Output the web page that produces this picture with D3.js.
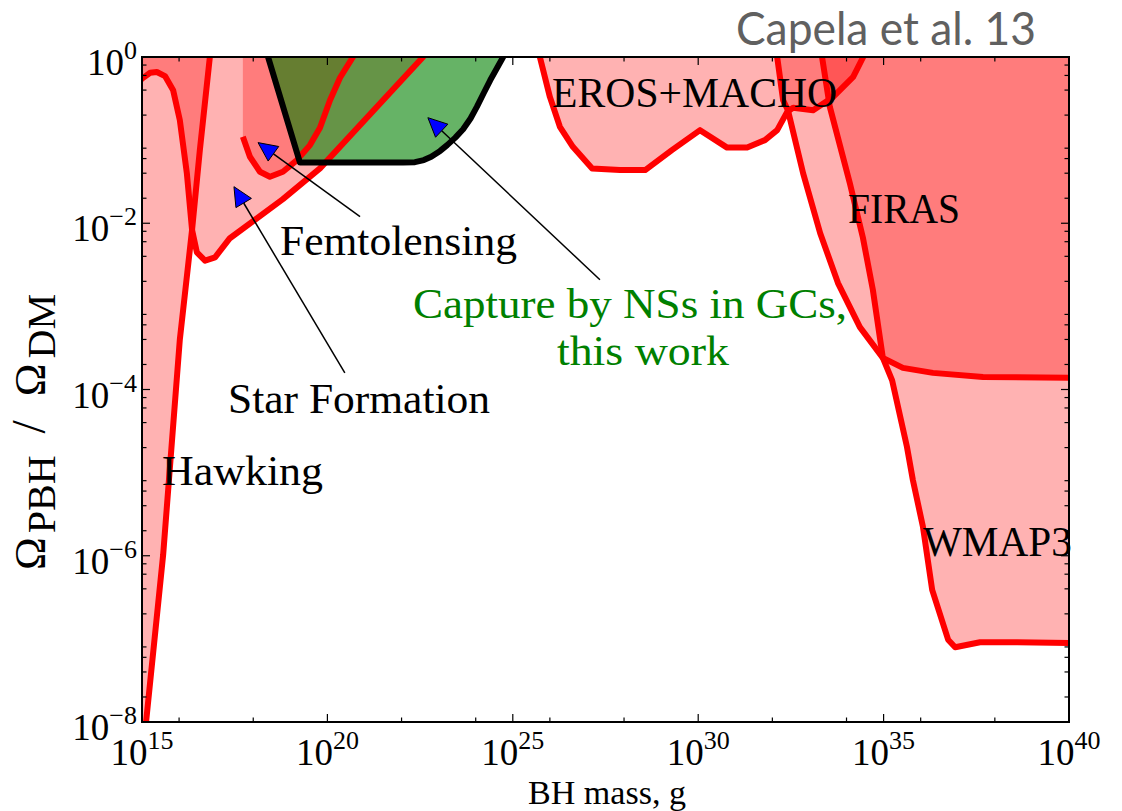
<!DOCTYPE html>
<html>
<head>
<meta charset="utf-8">
<script src="https://cdn.jsdelivr.net/npm/d3@7"></script>
<style>
body { margin: 0; background: #fff; }
svg text { font-family: "Liberation Serif", "DejaVu Serif", serif; }
</style>
</head>
<body>
<svg id="chart" width="1122" height="811"></svg>
<script>

// every point is [log10 M (g), log10 Omega_PBH/Omega_DM]
var hawking = [[15.06,-8.3],[15.11,-8.0],[15.57,-5.99],[16.02,-3.40],[16.35,-2.08],[16.56,-1.12],[16.83,0],[16.85,0.1]];
var starFormation = [[14.9,-0.3],[15.03,-0.25],[15.22,-0.19],[15.40,-0.18],[15.62,-0.23],[15.84,-0.40],[16.02,-0.76],
    [16.21,-1.40],[16.35,-2.08],[16.48,-2.35],[16.70,-2.45],[16.97,-2.41],[17.37,-2.18],[18.80,-1.71],
    [19.80,-1.34],[22.58,0],[22.66,0.1]];
var femtolensing = [[17.72,-0.96],[17.91,-1.20],[18.18,-1.38],[18.45,-1.44],[18.80,-1.38],[19.18,-1.24],
    [19.53,-1.06],[19.80,-0.85],[20.07,-0.52],[20.34,-0.25],[20.69,0],[20.75,0.1]];
var capture = [[18.33,0.1],[18.40,0],[19.26,-1.27],[22.04,-1.27],[22.36,-1.265],[22.60,-1.24],[22.80,-1.20],
    [23.04,-1.13],[23.23,-1.06],[23.45,-0.97],[23.66,-0.87],[23.86,-0.74],[24.03,-0.60],[24.22,-0.43],
    [24.39,-0.28],[24.74,0],[24.80,0.1]];
var erosMacho = [[25.70,0.1],[25.73,0],[26.00,-0.48],[26.27,-0.84],[26.62,-1.08],[27.14,-1.34],[27.89,-1.36],
    [28.57,-1.36],[29.29,-1.12],[30.05,-0.88],[30.78,-1.09],[31.32,-1.09],[31.80,-1.00],[32.13,-0.88],
    [32.40,-0.66],[32.56,-0.61],[33.10,-0.64],[33.64,-0.48],[34.18,-0.24],[34.45,0],[34.50,0.1]];
var wmap3 = [[32.11,0.1],[32.13,0],[32.29,-0.52],[32.42,-0.64],[32.83,-1.40],[33.29,-2.12],[33.77,-2.72],
    [34.36,-3.25],[34.98,-3.62],[35.23,-3.89],[35.63,-4.69],[35.79,-5.09],[36.06,-5.65],[36.31,-6.41],
    [36.74,-7.01],[36.93,-7.10],[37.60,-7.04],[38.60,-7.04],[40.00,-7.05],[40.2,-7.05]];
var firas = [[33.32,0.1],[33.34,0],[33.55,-0.60],[34.09,-1.52],[34.44,-2.17],[34.71,-2.80],[34.98,-3.62],
    [35.52,-3.74],[36.33,-3.80],[37.68,-3.85],[40.00,-3.86],[40.2,-3.86]];

// annotation arrows: [tail, tip]
var arrowFemto = [[20.88,-1.92],[18.13,-1.03]];
var arrowStar = [[20.47,-3.80],[17.48,-1.56]];
var arrowCapture = [[27.35,-2.68],[22.71,-0.73]];

var xMajor = [15,20,25,30,35,40];
var xMinor = [16,18,22,24,26,28,32,34,36,38];
var yMajor = [0,-2,-4,-6,-8];

var labels = [
    {text: 'EROS+MACHO', at: [26.06,-0.60], len: 285, color: '#000'},
    {text: 'FIRAS', at: [34.04,-2.00], len: 112, color: '#000'},
    {text: 'WMAP3', at: [36.06,-6.00], len: 149, color: '#000'},
    {text: 'Hawking', at: [15.54,-5.15], len: 161, color: '#000'},
    {text: 'Star Formation', at: [17.32,-4.28], len: 262, color: '#000'},
    {text: 'Femtolensing', at: [18.72,-2.38], len: 237, color: '#000'},
    {text: 'Capture by NSs in GCs,', at: [22.31,-3.14], len: 434, color: '#008000'},
    {text: 'this work', at: [26.19,-3.70], len: 172, color: '#008000'}
];

var box = {left: 142, right: 1069, top: 57, bottom: 722};
var svg = d3.select('#chart');

var x = d3.scaleLog().domain([1e15, 1e40]).range([box.left, box.right]);
var y = d3.scaleLog().domain([1e-8, 1]).range([box.bottom, box.top]);
var px = function(d) { return x(Math.pow(10, d[0])); };
var py = function(d) { return y(Math.pow(10, d[1])); };
var line = d3.line().x(px).y(py);
var shape = function(pts) { return line(pts) + 'Z'; };

svg.append('clipPath').attr('id', 'plot')
    .append('rect')
    .attr('x', box.left).attr('y', box.top)
    .attr('width', box.right - box.left).attr('height', box.bottom - box.top);

var g = svg.append('g').attr('clip-path', 'url(#plot)');

// excluded regions, red at 30% so the overlaps darken
var regions = [
    hawking.concat([[14.8,0.2],[14.8,-8.3]]),
    starFormation.concat([[14.8,0.2]]),
    [[17.72,0.2]].concat(femtolensing),
    erosMacho,
    wmap3.concat([[40.2,0.2]]),
    firas.concat([[40.2,0.2]])
];
g.selectAll('path.region').data(regions).enter().append('path')
    .attr('class', 'region')
    .attr('d', shape)
    .attr('fill', '#ff0000').attr('fill-opacity', 0.3)
    .attr('stroke', 'none');

g.append('path')
    .attr('d', shape(capture))
    .attr('fill', '#008000').attr('fill-opacity', 0.6);

[hawking, starFormation, femtolensing, erosMacho, wmap3, firas].forEach(function(c) {
    g.append('path').attr('d', line(c))
        .attr('fill', 'none').attr('stroke', '#ff0000')
        .attr('stroke-width', 6).attr('stroke-linejoin', 'round');
});

g.append('path').attr('d', line(capture))
    .attr('fill', 'none').attr('stroke', '#000')
    .attr('stroke-width', 6).attr('stroke-linejoin', 'round');

// arrows
[arrowFemto, arrowStar, arrowCapture].forEach(function(a) {
    var x0 = px(a[0]), y0 = py(a[0]), x1 = px(a[1]), y1 = py(a[1]);
    var dx = x1 - x0, dy = y1 - y0, n = Math.sqrt(dx * dx + dy * dy);
    var ux = dx / n, uy = dy / n, hl = 19, hw = 9;
    var bx = x1 - ux * hl, by = y1 - uy * hl;
    svg.append('line')
        .attr('x1', x0).attr('y1', y0).attr('x2', bx).attr('y2', by)
        .attr('stroke', '#000').attr('stroke-width', 1.5);
    svg.append('path')
        .attr('d', 'M' + x1 + ',' + y1 + 'L' + (bx - uy * hw) + ',' + (by + ux * hw) +
            'L' + (bx + uy * hw) + ',' + (by - ux * hw) + 'Z')
        .attr('fill', '#0000ff').attr('stroke', '#000').attr('stroke-width', 1);
});

// frame and ticks, pointing inward on all sides
var ticks = svg.append('g').attr('stroke', '#000').attr('stroke-width', 1.2);
function xTick(e, len) {
    var xx = x(Math.pow(10, e));
    ticks.append('line').attr('x1', xx).attr('x2', xx).attr('y1', box.bottom).attr('y2', box.bottom - len);
    ticks.append('line').attr('x1', xx).attr('x2', xx).attr('y1', box.top).attr('y2', box.top + len);
}
function yTick(v, len) {
    var yy = y(v);
    ticks.append('line').attr('y1', yy).attr('y2', yy).attr('x1', box.left).attr('x2', box.left + len);
    ticks.append('line').attr('y1', yy).attr('y2', yy).attr('x1', box.right).attr('x2', box.right - len);
}
xMajor.forEach(function(e) { xTick(e, 8); });
xMinor.forEach(function(e) { xTick(e, 4.5); });
yMajor.forEach(function(e) { yTick(Math.pow(10, e), 8); });
d3.range(-8, 0).forEach(function(e) {
    [2, 4, 6, 8].forEach(function(k) { yTick(k * Math.pow(10, e), 4.5); });
});

svg.append('rect')
    .attr('x', box.left).attr('y', box.top)
    .attr('width', box.right - box.left).attr('height', box.bottom - box.top)
    .attr('fill', 'none').attr('stroke', '#000').attr('stroke-width', 2);

function powLabel(t, e) {
    t.append('tspan').text('10');
    t.append('tspan').attr('dy', -16).attr('font-size', 26).text(e < 0 ? '\u2212' + (-e) : e);
}
xMajor.forEach(function(e) {
    var t = svg.append('text')
        .attr('x', x(Math.pow(10, e))).attr('y', box.bottom + 43)
        .attr('text-anchor', 'middle').attr('font-size', 37);
    powLabel(t, e);
});
yMajor.forEach(function(e) {
    var t = svg.append('text')
        .attr('x', box.left - 5).attr('y', y(Math.pow(10, e)) + 18)
        .attr('text-anchor', 'end').attr('font-size', 37);
    powLabel(t, e);
});

svg.append('text')
    .attr('x', 607).attr('y', 804)
    .attr('text-anchor', 'middle').attr('font-size', 34)
    .attr('textLength', 158).attr('lengthAdjust', 'spacingAndGlyphs')
    .text('BH mass, g');

var yl = svg.append('text')
    .attr('transform', 'translate(45,570) rotate(-90)')
    .attr('font-size', 44);
yl.append('tspan').text('\u03A9');
yl.append('tspan').attr('dx', 4).attr('dy', 10).attr('font-size', 40).text('PBH');
yl.append('tspan').attr('dx', 22).attr('dy', -10).attr('font-size', 48).text('/');
yl.append('tspan').attr('dx', 24).text('\u03A9');
yl.append('tspan').attr('dx', 5).attr('dy', 10).attr('font-size', 40).text('DM');

svg.selectAll('text.note').data(labels).enter().append('text')
    .attr('class', 'note')
    .attr('x', function(d) { return px(d.at); })
    .attr('y', function(d) { return py(d.at); })
    .attr('font-size', 42)
    .attr('fill', function(d) { return d.color; })
    .attr('textLength', function(d) { return d.len; })
    .attr('lengthAdjust', 'spacingAndGlyphs')
    .text(function(d) { return d.text; });

svg.append('text')
    .attr('x', 1036).attr('y', 45)
    .attr('text-anchor', 'end')
    .attr('font-size', 46)
    .attr('fill', '#606060')
    .attr('textLength', 300).attr('lengthAdjust', 'spacingAndGlyphs')
    .style('font-family', 'Lato, "Open Sans", sans-serif')
    .text('Capela et al. 13');

</script>
</body>
</html>
